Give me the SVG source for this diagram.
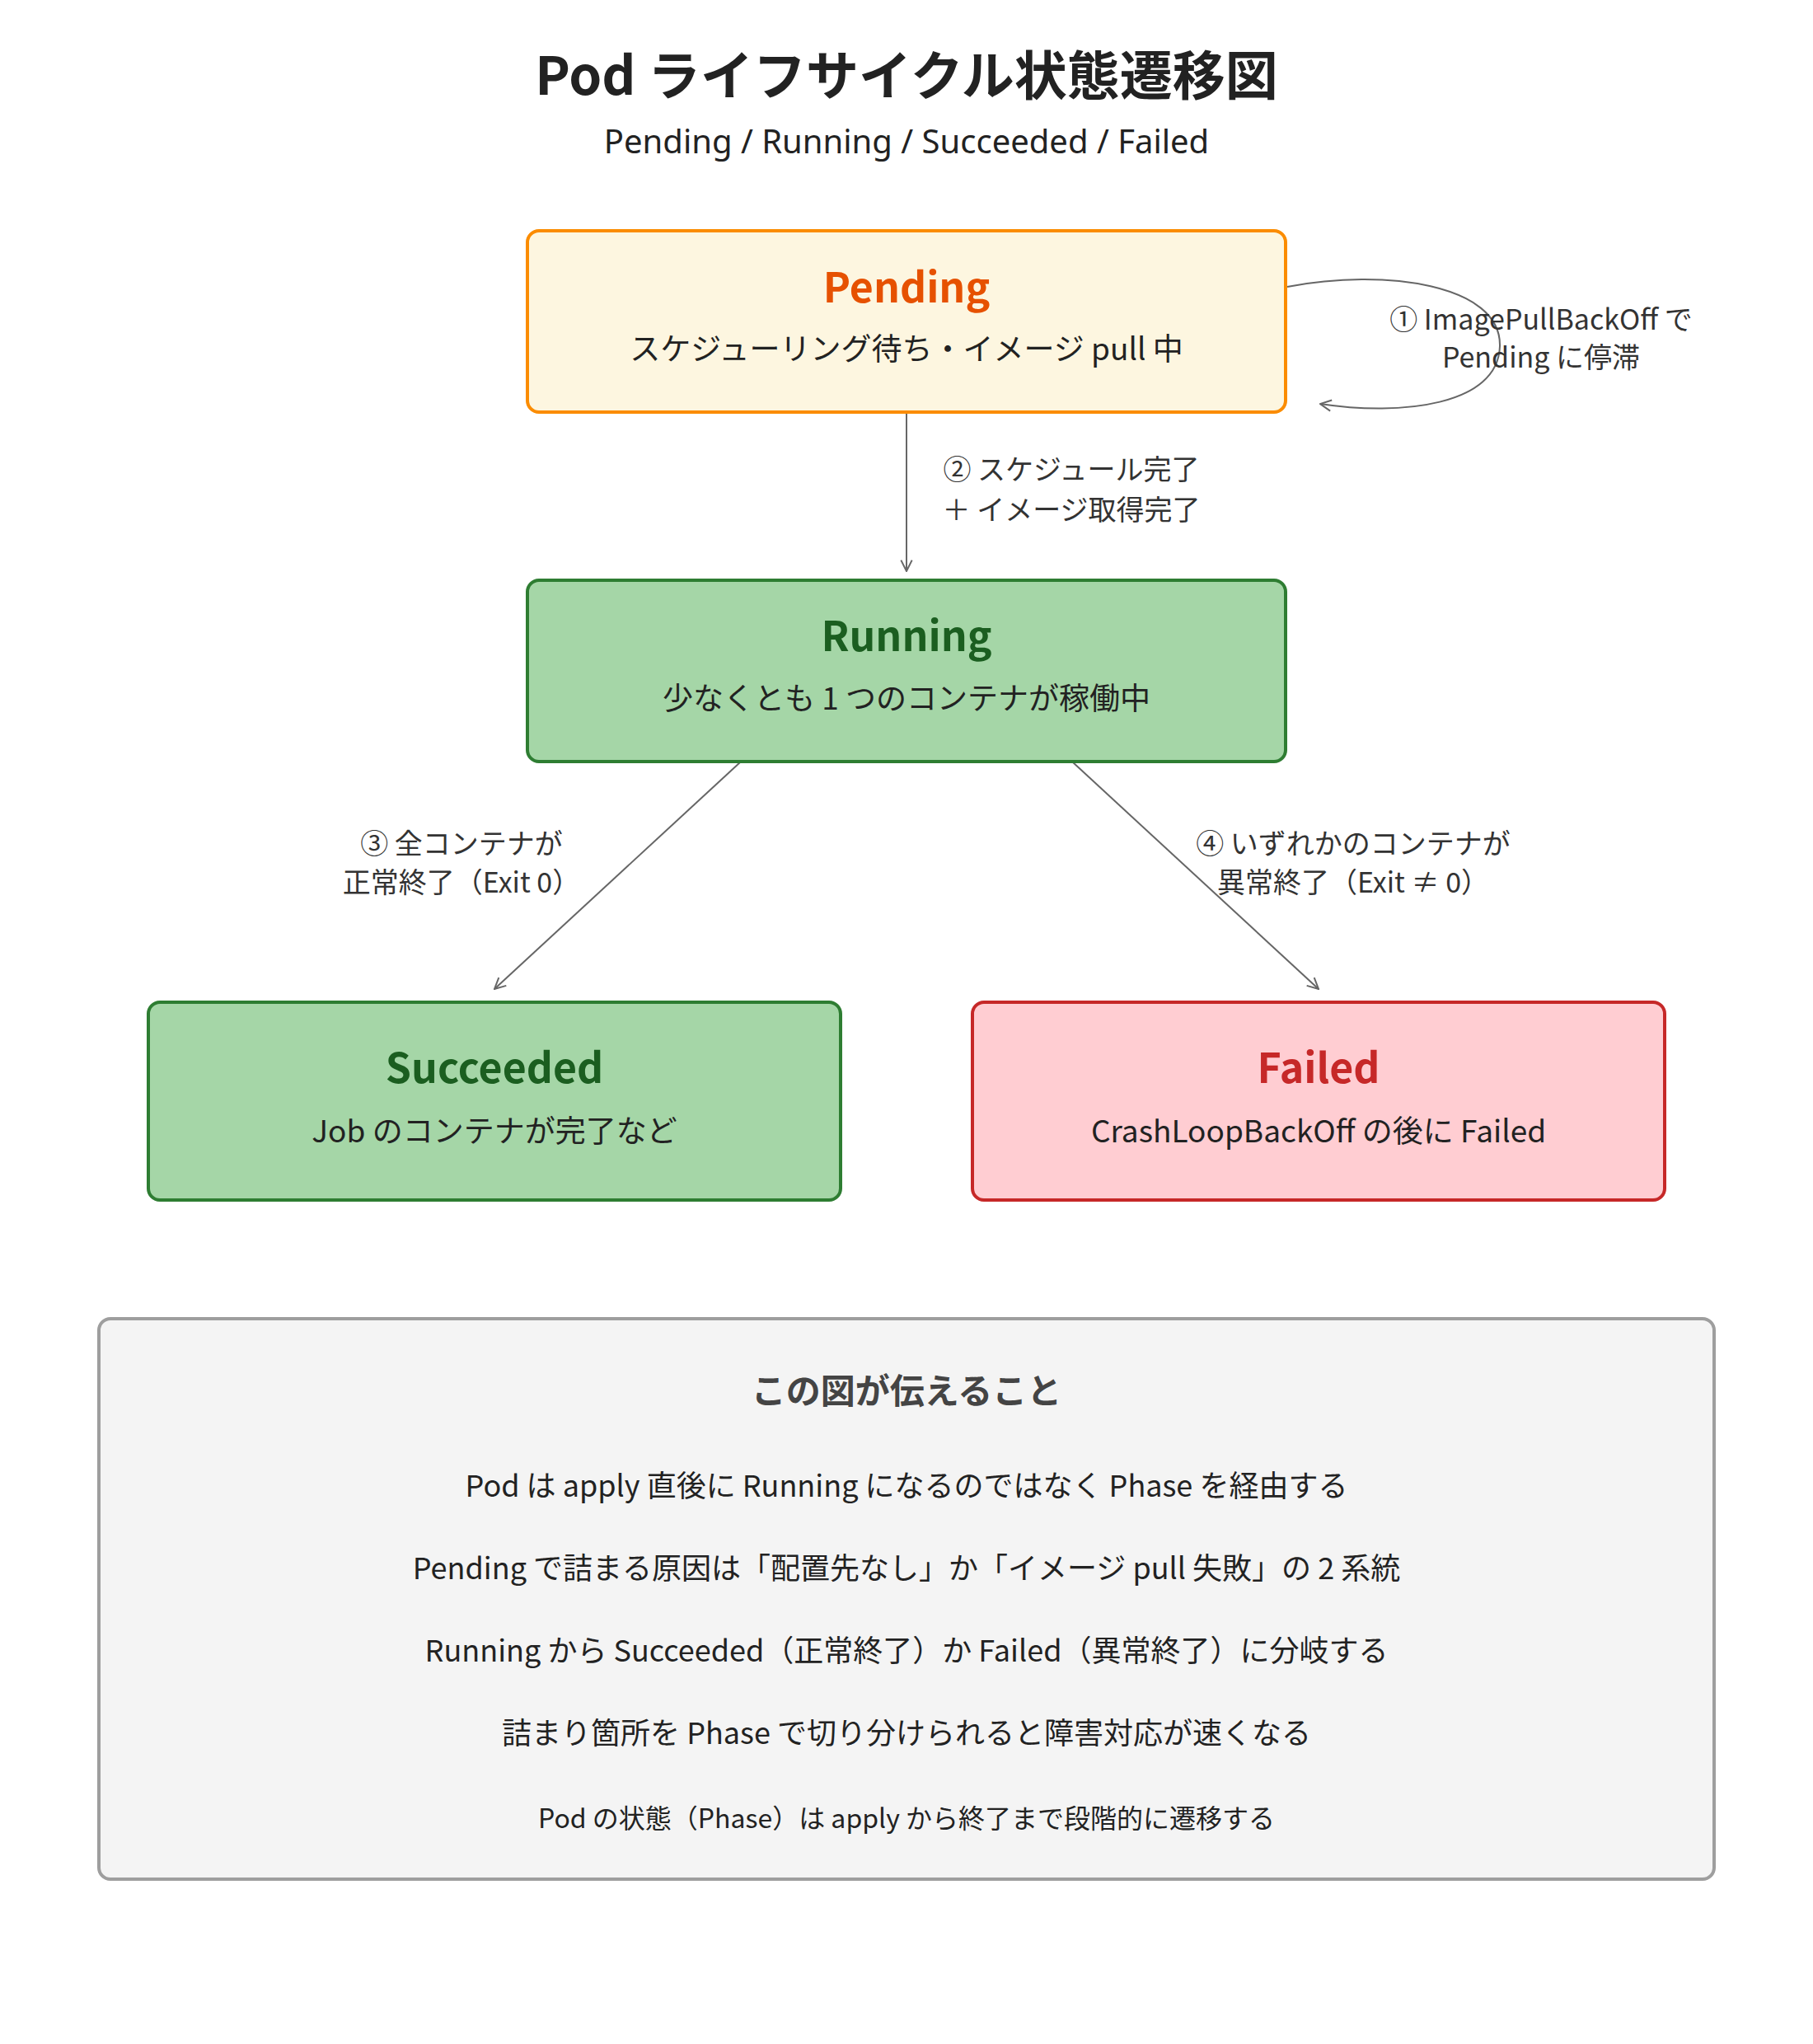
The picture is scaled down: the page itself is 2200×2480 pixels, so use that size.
<svg xmlns="http://www.w3.org/2000/svg" width="2200" height="2480" viewBox="0 0 2200 2480">
<style>
text{font-family:"Noto Sans CJK JP","Noto Sans",sans-serif;text-anchor:middle;fill:#222}
.title{font-size:64px;font-weight:700}
.sub{font-size:40px;font-family:"Noto Sans","Noto Sans CJK JP",sans-serif}
.ntitle{font-size:50px;font-weight:700}
.nsub{font-size:37px;fill:#222}
.elab{font-size:34px;fill:#333}
.edge{fill:none;stroke:#666;stroke-width:2}
.sumh{font-size:42px;font-weight:700;fill:#444}
.sumt{font-size:36px}
.sums{font-size:32px}
</style>
<defs>
<marker id="arr" viewBox="0 0 12 12" refX="11" refY="6" markerWidth="16" markerHeight="16" markerUnits="userSpaceOnUse" orient="auto">
<path d="M1,1 L11,6 L1,11" fill="none" stroke="#666" stroke-width="1.5"/>
</marker>
</defs>
<rect width="2200" height="2480" fill="#fff"/>
<text class="title" x="1100" y="115">Pod ライフサイクル状態遷移図</text>
<text class="sub" x="1100" y="186">Pending / Running / Succeeded / Failed</text>

<g id="connectors">
<path class="edge" d="M1562,348 C1680,325 1822,345 1820,420 C1818,492 1700,505 1602,490" marker-end="url(#arr)"/>
<path class="edge" d="M1100,500 L1100,693" marker-end="url(#arr)"/>
<path class="edge" d="M898,925 L600,1200" marker-end="url(#arr)"/>
<path class="edge" d="M1302,925 L1600,1200" marker-end="url(#arr)"/>
<text class="elab" x="1870" y="400">① ImagePullBackOff で</text>
<text class="elab" x="1870" y="446">Pending に停滞</text>
<text class="elab" x="1300" y="582">② スケジュール完了</text>
<text class="elab" x="1300" y="631">＋ イメージ取得完了</text>
<text class="elab" x="560" y="1036">③ 全コンテナが</text>
<text class="elab" x="560" y="1083">正常終了（Exit 0）</text>
<text class="elab" x="1642" y="1036">④ いずれかのコンテナが</text>
<text class="elab" x="1642" y="1083">異常終了（Exit ≠ 0）</text>
</g>

<g id="pending">
<rect x="640" y="280" width="920" height="220" rx="14" fill="#FDF6E0" stroke="#FB8C00" stroke-width="4"/>
<text class="ntitle" x="1100" y="367" style="fill:#E65100">Pending</text>
<text class="nsub" x="1100" y="437">スケジューリング待ち・イメージ pull 中</text>
</g>
<g id="running">
<rect x="640" y="704" width="920" height="220" rx="14" fill="#A5D6A7" stroke="#2E7D32" stroke-width="4"/>
<text class="ntitle" x="1100" y="790" style="fill:#1B5E20">Running</text>
<text class="nsub" x="1100" y="861">少なくとも 1 つのコンテナが稼働中</text>
</g>
<g id="succeeded">
<rect x="180" y="1216" width="840" height="240" rx="14" fill="#A5D6A7" stroke="#2E7D32" stroke-width="4"/>
<text class="ntitle" x="600" y="1314" style="fill:#1B5E20">Succeeded</text>
<text class="nsub" x="600" y="1386">Job のコンテナが完了など</text>
</g>
<g id="failed">
<rect x="1180" y="1216" width="840" height="240" rx="14" fill="#FFCDD2" stroke="#C62828" stroke-width="4"/>
<text class="ntitle" x="1600" y="1314" style="fill:#C62828">Failed</text>
<text class="nsub" x="1600" y="1386">CrashLoopBackOff の後に Failed</text>
</g>

<g id="summary">
<rect x="120" y="1600" width="1960" height="680" rx="14" fill="#F4F4F4" stroke="#9E9E9E" stroke-width="4"/>
<text class="sumh" x="1100" y="1703">この図が伝えること</text>
<text class="sumt" x="1100" y="1816">Pod は apply 直後に Running になるのではなく Phase を経由する</text>
<text class="sumt" x="1100" y="1916">Pending で詰まる原因は「配置先なし」か「イメージ pull 失敗」の 2 系統</text>
<text class="sumt" x="1100" y="2016">Running から Succeeded（正常終了）か Failed（異常終了）に分岐する</text>
<text class="sumt" x="1100" y="2116">詰まり箇所を Phase で切り分けられると障害対応が速くなる</text>
<text class="sums" x="1100" y="2218">Pod の状態（Phase）は apply から終了まで段階的に遷移する</text>
</g>
</svg>
